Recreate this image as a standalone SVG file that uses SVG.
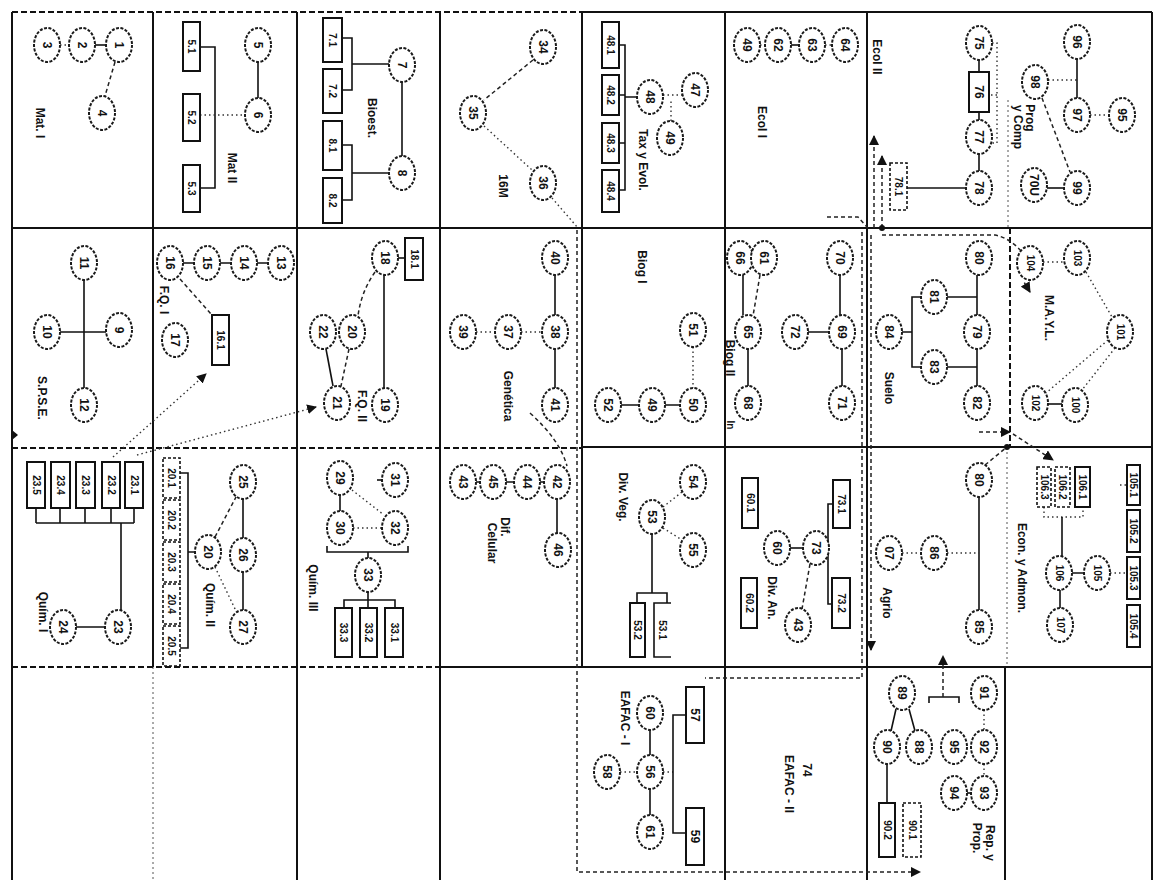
<svg xmlns="http://www.w3.org/2000/svg" width="1157" height="880" viewBox="0 0 1157 880">
<style>
.bg{fill:#fff}
.g{stroke:#111;stroke-width:2;fill:none}
.gd{stroke:#111;stroke-width:2;fill:none;stroke-dasharray:6 3}
.gt{stroke:#555;stroke-width:1;fill:none;stroke-dasharray:2 3}
.e{fill:#fff;stroke:#1a1a1a;stroke-width:2;stroke-dasharray:3 1.5}
.r{fill:#fff;stroke:#111;stroke-width:2}
.rd{fill:#fff;stroke:#111;stroke-width:1.6;stroke-dasharray:3 2}
.t{font-family:"Liberation Sans",Arial,sans-serif;font-weight:bold;font-size:12px;text-anchor:middle;dominant-baseline:central;fill:#111}
.ts{font-family:"Liberation Sans",Arial,sans-serif;font-weight:bold;font-size:10px;text-anchor:middle;dominant-baseline:central;fill:#111}
.lb{font-family:"Liberation Sans",Arial,sans-serif;font-weight:bold;font-size:12px;text-anchor:middle;dominant-baseline:central;fill:#111}
.s{stroke:#111;stroke-width:1.6;fill:none}
.d{stroke:#222;stroke-width:1.5;fill:none;stroke-dasharray:4 3}
.o{stroke:#333;stroke-width:1.4;fill:none;stroke-dasharray:1.5 3}
</style>
<defs>
<marker id="ah" viewBox="0 0 10 10" refX="9" refY="5" markerWidth="7" markerHeight="7" orient="auto-start-reverse"><path d="M0,0 L10,5 L0,10 z" fill="#111"/></marker>
</defs>
<rect class="bg" x="0" y="0" width="1157" height="880"/>

<g id="grid">
<path class="gd" d="M12,12 H582"/>
<path class="g" d="M582,12 H1152"/>
<path class="g" d="M12,12 V880"/>
<path class="g" d="M153,12 V667"/>
<path class="gt" d="M153,667 V880"/>
<path class="g" d="M297,12 V880"/>
<path class="g" d="M440,12 V880"/>
<path class="g" d="M582,12 V667"/>
<path class="g" d="M725,12 V880"/>
<path class="g" d="M867,12 V880"/>
<path class="gt" d="M1008,100 V228"/>
<path class="gd" d="M1010,228 V447"/>
<path class="gt" d="M1007,447 V667"/>
<path class="g" d="M1005,667 V880"/>
<path class="g" d="M1152,12 V880"/>
<path class="g" d="M12,228 H1152"/>
<path class="gd" d="M12,448 H582"/>
<path class="g" d="M582,447 H1152"/>
<path class="gd" d="M12,667 H440"/>
<path class="g" d="M440,667 H1152"/>
</g>

<g id="connectors">
<path class="o" d="M60,45 H69"/>
<path class="s" d="M95,45 H106"/>
<path class="d" d="M115,62 L105,96"/>
<path class="s" d="M200,47 H215 V188 H200"/>
<path class="o" d="M200,115 H245"/>
<path class="s" d="M258,62 V98"/>
<path class="s" d="M342,38 H352 V90 H342"/>
<path class="s" d="M352,64 H389"/>
<path class="s" d="M342,145 H352 V200 H342"/>
<path class="s" d="M352,173 H389"/>
<path class="s" d="M402,82 V156"/>
<path class="d" d="M533,60 L484,100"/>
<path class="o" d="M484,126 L532,170"/>
<path class="o" d="M552,198 L578,228"/>
<path class="s" d="M619,45 H625 V190 H619 M619,95 H625 M619,143 H625 M625,97 H637"/>
<path class="o" d="M663,95 H682"/>
<path class="o" d="M671,121 V100"/>
<path class="o" d="M760,45 H765"/>
<path class="s" d="M791,45 H799"/>
<path class="o" d="M825,45 H832"/>
<path class="s" d="M979,60 V72 M979,112 V120 M979,154 V171"/>
<path class="o" d="M992,43 H997 V143 H992 M997,95 H989"/>
<path class="s" d="M907,188 H966"/>
<path class="o" d="M1048,80 H1077"/>
<path class="s" d="M1077,59 V98"/>
<path class="o" d="M1090,115 H1109"/>
<path class="d" d="M1042,98 L1070,172"/>
<path class="s" d="M1064,188 H1047"/>
<path class="s" d="M84,280 V388 M60,332 H106"/>
<path class="s" d="M183,263 H194 M220,263 H231 M257,263 H268"/>
<path class="d" d="M180,279 L212,315"/>
<path class="o" d="M113,457 L206,374" marker-end="url(#ah)"/>
<path class="o" d="M137,455 L316,407" marker-end="url(#ah)"/>
<path class="s" d="M398,258 H405"/>
<path class="d" d="M375,272 Q361,292 358,316"/>
<path class="s" d="M384,275 V388"/>
<path class="s" d="M326,349 L333,386"/>
<path class="d" d="M349,349 L341,386"/>
<path class="s" d="M555,275 V315 M555,349 V388"/>
<path class="o" d="M476,332 H495 M521,332 H542"/>
<path class="d" d="M530,413 Q560,440 567,466"/>
<path class="o" d="M693,347 V388"/>
<path class="s" d="M680,405 H665 M639,405 H621"/>
<path class="s" d="M743,275 V315"/>
<path class="d" d="M760,275 L753,316"/>
<path class="s" d="M840,275 V315 M842,349 V386 M808,332 H829 M748,349 V386"/>
<path class="s" d="M977,275 V315 M977,349 V386 M947,297 H977 M947,367 H977 M921,297 H912 V367 H921 M912,332 H902"/>
<path class="o" d="M1043,262 H1064"/>
<path class="o" d="M1086,272 L1112,317"/>
<path class="o" d="M1108,340 L1046,393"/>
<path class="o" d="M1115,348 L1082,390"/>
<path class="s" d="M1048,404 H1062"/>
<path class="s" d="M36,508 V523 M60,508 V523 M85,508 V523 M111,508 V523 M134,508 V523 M36,523 H134 M121,523 V610 M76,627 H105"/>
<path class="d" d="M215,537 L236,497"/>
<path class="s" d="M243,499 V538 M243,572 V610"/>
<path class="o" d="M215,567 L236,611"/>
<path class="s" d="M180,473 H188 V648 H180 M188,552 H195"/>
<path class="s" d="M340,495 V511"/>
<path class="o" d="M353,528 H382"/>
<path class="o" d="M352,490 L384,515"/>
<path class="s" d="M382,480 H377"/>
<path class="s" d="M327,546 V552 H408 V546 M368,552 V558"/>
<path class="s" d="M344,608 V600 H395 V608 M368,592 V608"/>
<path class="s" d="M476,482 H480 M506,482 H514 M540,482 H544 M557,499 V533"/>
<path class="o" d="M663,507 L682,492 M663,528 L682,540"/>
<path class="s" d="M652,534 V593 M637,603 V593 H667 V603"/>
<path class="s" d="M790,548 H804"/>
<path class="s" d="M833,504 H828 V604 H832"/>
<path class="d" d="M810,564 L802,609"/>
<path class="s" d="M979,497 V610"/>
<path class="o" d="M947,553 H979 M902,553 H921"/>
<path class="o" d="M1044,507 V517 H1083 V507"/>
<path class="s" d="M1062,517 V556 M1072,573 H1084 M1060,590 V608"/>
<path class="o" d="M1110,573 H1127 M1120,485 H1127"/>
<path class="s" d="M650,730 V755 M650,789 V815"/>
<path class="o" d="M620,772 H637 M663,772 H673"/>
<path class="s" d="M686,715 H673 V833 H686"/>
<path class="s" d="M896,709 L891,731 M909,709 L915,731 M887,764 V803"/>
<path class="o" d="M984,710 V730 M984,764 V776"/>
<path class="s" d="M971,793 H967"/>
<path class="s" d="M929,703 V697 H959 V703"/>
<path class="d" d="M943,697 V656" marker-end="url(#ah)"/>
<path class="d" d="M577,230 V872 H920" marker-end="url(#ah)"/>
<path class="d" d="M862,232 V678 H705"/>
<path class="d" d="M827,217 H858 L868,228"/>
<path class="d" d="M874,228 V136" marker-end="url(#ah)"/>
<path class="d" d="M882,228 V156" marker-end="url(#ah)"/>
<path class="d" d="M882,235 H995 Q1010,238 1022,252"/>
<path class="d" d="M871,235 V650" marker-end="url(#ah)"/>
<path class="d" d="M985,465 L1007,447"/>
<path class="d" d="M979,432 H1010" marker-end="url(#ah)"/>
<path class="d" d="M1013,434 L1053,460" marker-end="url(#ah)"/>
<path class="d" d="M1030,292 L1024,282" marker-start="url(#ah)"/>
<circle cx="1007" cy="447" r="3" fill="#111"/>
<circle cx="882" cy="228" r="3" fill="#111"/>
<path d="M12,430 L18,435 L12,440 z" fill="#111"/>
</g>

<g id="n3"><ellipse class="e" cx="47" cy="45" rx="13" ry="17"/><text class="t" transform="translate(47,45) rotate(90)">3</text></g>
<g id="n2"><ellipse class="e" cx="82" cy="45" rx="13" ry="17"/><text class="t" transform="translate(82,45) rotate(90)">2</text></g>
<g id="n1"><ellipse class="e" cx="119" cy="45" rx="13" ry="17"/><text class="t" transform="translate(119,45) rotate(90)">1</text></g>
<g id="n4"><ellipse class="e" cx="102" cy="113" rx="13" ry="17"/><text class="t" transform="translate(102,113) rotate(90)">4</text></g>
<g id="lMat1"><text class="lb" transform="translate(40,123) rotate(90)">Mat. I</text></g>
<g id="r5_1"><rect class="r" x="183" y="22" width="17" height="49"/><text class="ts" transform="translate(191.5,46.5) rotate(90)">5.1</text></g>
<g id="r5_2"><rect class="r" x="183" y="94" width="17" height="47"/><text class="ts" transform="translate(191.5,117.5) rotate(90)">5.2</text></g>
<g id="r5_3"><rect class="r" x="183" y="165" width="17" height="47"/><text class="ts" transform="translate(191.5,188.5) rotate(90)">5.3</text></g>
<g id="n5"><ellipse class="e" cx="258" cy="45" rx="13" ry="17"/><text class="t" transform="translate(258,45) rotate(90)">5</text></g>
<g id="n6"><ellipse class="e" cx="258" cy="115" rx="13" ry="17"/><text class="t" transform="translate(258,115) rotate(90)">6</text></g>
<g id="lMat2"><text class="lb" transform="translate(232,168) rotate(90)">Mat II</text></g>
<g id="r7_1"><rect class="r" x="323" y="18" width="19" height="44"/><text class="ts" transform="translate(332.5,40) rotate(90)">7.1</text></g>
<g id="r7_2"><rect class="r" x="323" y="69" width="19" height="44"/><text class="ts" transform="translate(332.5,91) rotate(90)">7.2</text></g>
<g id="r8_1"><rect class="r" x="323" y="121" width="19" height="49"/><text class="ts" transform="translate(332.5,145.5) rotate(90)">8.1</text></g>
<g id="r8_2"><rect class="r" x="323" y="178" width="19" height="45"/><text class="ts" transform="translate(332.5,200.5) rotate(90)">8.2</text></g>
<g id="n7"><ellipse class="e" cx="402" cy="65" rx="13" ry="17"/><text class="t" transform="translate(402,65) rotate(90)">7</text></g>
<g id="n8"><ellipse class="e" cx="402" cy="173" rx="13" ry="17"/><text class="t" transform="translate(402,173) rotate(90)">8</text></g>
<g id="lBio"><text class="lb" transform="translate(372,118) rotate(90)">Bioest.</text></g>
<g id="n34"><ellipse class="e" cx="543" cy="47" rx="13" ry="17"/><text class="t" transform="translate(543,47) rotate(90)">34</text></g>
<g id="n35"><ellipse class="e" cx="473" cy="113" rx="13" ry="17"/><text class="t" transform="translate(473,113) rotate(90)">35</text></g>
<g id="n36"><ellipse class="e" cx="543" cy="183" rx="13" ry="17"/><text class="t" transform="translate(543,183) rotate(90)">36</text></g>
<g id="l16M"><text class="lb" transform="translate(503,186) rotate(90)">16M</text></g>
<g id="r48_1"><rect class="r" x="602" y="22" width="17" height="46"/><text class="ts" transform="translate(610.5,45) rotate(90)">48.1</text></g>
<g id="r48_2"><rect class="r" x="602" y="75" width="17" height="40"/><text class="ts" transform="translate(610.5,95) rotate(90)">48.2</text></g>
<g id="r48_3"><rect class="r" x="602" y="123" width="17" height="40"/><text class="ts" transform="translate(610.5,143) rotate(90)">48.3</text></g>
<g id="r48_4"><rect class="r" x="602" y="170" width="17" height="42"/><text class="ts" transform="translate(610.5,191) rotate(90)">48.4</text></g>
<g id="n48"><ellipse class="e" cx="650" cy="97" rx="13" ry="17"/><text class="t" transform="translate(650,97) rotate(90)">48</text></g>
<g id="n47"><ellipse class="e" cx="695" cy="90" rx="13" ry="17"/><text class="t" transform="translate(695,90) rotate(90)">47</text></g>
<g id="n49"><ellipse class="e" cx="670" cy="138" rx="13" ry="17"/><text class="t" transform="translate(670,138) rotate(90)">49</text></g>
<g id="lTax"><text class="lb" transform="translate(643,160) rotate(90)">Tax y Evol.</text></g>
<g id="n49b"><ellipse class="e" cx="747" cy="45" rx="13" ry="17"/><text class="t" transform="translate(747,45) rotate(90)">49</text></g>
<g id="n62"><ellipse class="e" cx="778" cy="45" rx="13" ry="17"/><text class="t" transform="translate(778,45) rotate(90)">62</text></g>
<g id="n63"><ellipse class="e" cx="812" cy="45" rx="13" ry="17"/><text class="t" transform="translate(812,45) rotate(90)">63</text></g>
<g id="n64"><ellipse class="e" cx="845" cy="45" rx="13" ry="17"/><text class="t" transform="translate(845,45) rotate(90)">64</text></g>
<g id="lEcol1"><text class="lb" transform="translate(762,122) rotate(90)">Ecol I</text></g>
<g id="n75"><ellipse class="e" cx="979" cy="43" rx="13" ry="17"/><text class="t" transform="translate(979,43) rotate(90)">75</text></g>
<g id="r76"><rect class="r" x="969" y="72" width="20" height="40"/><text class="t" transform="translate(979,92) rotate(90)">76</text></g>
<g id="n77"><ellipse class="e" cx="979" cy="137" rx="13" ry="17"/><text class="t" transform="translate(979,137) rotate(90)">77</text></g>
<g id="n78"><ellipse class="e" cx="979" cy="188" rx="13" ry="17"/><text class="t" transform="translate(979,188) rotate(90)">78</text></g>
<g id="r78_1"><rect class="rd" x="890" y="163" width="17" height="47"/><text class="ts" transform="translate(898.5,186.5) rotate(90)">78.1</text></g>
<g id="lEcol2"><text class="lb" transform="translate(877,57) rotate(90)">Ecol II</text></g>
<g id="n98"><ellipse class="e" cx="1035" cy="82" rx="13" ry="17"/><text class="t" transform="translate(1035,82) rotate(90)">98</text></g>
<g id="n96"><ellipse class="e" cx="1077" cy="42" rx="13" ry="17"/><text class="t" transform="translate(1077,42) rotate(90)">96</text></g>
<g id="n97"><ellipse class="e" cx="1077" cy="115" rx="13" ry="17"/><text class="t" transform="translate(1077,115) rotate(90)">97</text></g>
<g id="n95"><ellipse class="e" cx="1122" cy="115" rx="13" ry="17"/><text class="t" transform="translate(1122,115) rotate(90)">95</text></g>
<g id="n99"><ellipse class="e" cx="1077" cy="188" rx="13" ry="17"/><text class="t" transform="translate(1077,188) rotate(90)">99</text></g>
<g id="n70u"><ellipse class="e" cx="1034" cy="185" rx="13" ry="17"/><text class="t" transform="translate(1034,185) rotate(90)">70U</text></g>
<g id="lProg"><text class="lb" transform="translate(1030,118) rotate(90)">Prog</text><text class="lb" transform="translate(1018,127) rotate(90)">y Comp</text></g>
<g id="n11"><ellipse class="e" cx="84" cy="263" rx="13" ry="17"/><text class="t" transform="translate(84,263) rotate(90)">11</text></g>
<g id="n10"><ellipse class="e" cx="47" cy="332" rx="13" ry="17"/><text class="t" transform="translate(47,332) rotate(90)">10</text></g>
<g id="n9"><ellipse class="e" cx="119" cy="330" rx="13" ry="17"/><text class="t" transform="translate(119,330) rotate(90)">9</text></g>
<g id="n12"><ellipse class="e" cx="84" cy="405" rx="13" ry="17"/><text class="t" transform="translate(84,405) rotate(90)">12</text></g>
<g id="lSPSE"><text class="lb" transform="translate(42,398) rotate(90)">S.P.S.E.</text></g>
<g id="n16"><ellipse class="e" cx="170" cy="263" rx="13" ry="17"/><text class="t" transform="translate(170,263) rotate(90)">16</text></g>
<g id="n15"><ellipse class="e" cx="207" cy="263" rx="13" ry="17"/><text class="t" transform="translate(207,263) rotate(90)">15</text></g>
<g id="n14"><ellipse class="e" cx="244" cy="263" rx="13" ry="17"/><text class="t" transform="translate(244,263) rotate(90)">14</text></g>
<g id="n13"><ellipse class="e" cx="281" cy="263" rx="13" ry="17"/><text class="t" transform="translate(281,263) rotate(90)">13</text></g>
<g id="n17"><ellipse class="e" cx="175" cy="340" rx="13" ry="17"/><text class="t" transform="translate(175,340) rotate(90)">17</text></g>
<g id="r16_1"><rect class="r" x="212" y="315" width="17" height="50"/><text class="ts" transform="translate(220.5,340) rotate(90)">16.1</text></g>
<g id="lFQ1"><text class="lb" transform="translate(164,300) rotate(90)">F.Q. I</text></g>
<g id="n18"><ellipse class="e" cx="385" cy="258" rx="13" ry="17"/><text class="t" transform="translate(385,258) rotate(90)">18</text></g>
<g id="r18_1"><rect class="r" x="405" y="238" width="18" height="42"/><text class="ts" transform="translate(414,259) rotate(90)">18.1</text></g>
<g id="n22"><ellipse class="e" cx="323" cy="332" rx="13" ry="17"/><text class="t" transform="translate(323,332) rotate(90)">22</text></g>
<g id="n20"><ellipse class="e" cx="352" cy="332" rx="13" ry="17"/><text class="t" transform="translate(352,332) rotate(90)">20</text></g>
<g id="n21"><ellipse class="e" cx="337" cy="403" rx="13" ry="17"/><text class="t" transform="translate(337,403) rotate(90)">21</text></g>
<g id="n19"><ellipse class="e" cx="385" cy="405" rx="13" ry="17"/><text class="t" transform="translate(385,405) rotate(90)">19</text></g>
<g id="lFQ2"><text class="lb" transform="translate(362,406) rotate(90)">F.Q. II</text></g>
<g id="n40"><ellipse class="e" cx="555" cy="258" rx="13" ry="17"/><text class="t" transform="translate(555,258) rotate(90)">40</text></g>
<g id="n39"><ellipse class="e" cx="463" cy="332" rx="13" ry="17"/><text class="t" transform="translate(463,332) rotate(90)">39</text></g>
<g id="n37"><ellipse class="e" cx="508" cy="332" rx="13" ry="17"/><text class="t" transform="translate(508,332) rotate(90)">37</text></g>
<g id="n38"><ellipse class="e" cx="555" cy="332" rx="13" ry="17"/><text class="t" transform="translate(555,332) rotate(90)">38</text></g>
<g id="n41"><ellipse class="e" cx="555" cy="405" rx="13" ry="17"/><text class="t" transform="translate(555,405) rotate(90)">41</text></g>
<g id="lGen"><text class="lb" transform="translate(508,396) rotate(90)">Genética</text></g>
<g id="n51"><ellipse class="e" cx="693" cy="330" rx="13" ry="17"/><text class="t" transform="translate(693,330) rotate(90)">51</text></g>
<g id="n52"><ellipse class="e" cx="608" cy="405" rx="13" ry="17"/><text class="t" transform="translate(608,405) rotate(90)">52</text></g>
<g id="n49c"><ellipse class="e" cx="652" cy="405" rx="13" ry="17"/><text class="t" transform="translate(652,405) rotate(90)">49</text></g>
<g id="n50"><ellipse class="e" cx="693" cy="405" rx="13" ry="17"/><text class="t" transform="translate(693,405) rotate(90)">50</text></g>
<g id="lBiog1"><text class="lb" transform="translate(642,267) rotate(90)">Biog I</text></g>
<g id="n66"><ellipse class="e" cx="740" cy="258" rx="13" ry="17"/><text class="t" transform="translate(740,258) rotate(90)">66</text></g>
<g id="n61"><ellipse class="e" cx="764" cy="258" rx="13" ry="17"/><text class="t" transform="translate(764,258) rotate(90)">61</text></g>
<g id="n70"><ellipse class="e" cx="840" cy="258" rx="13" ry="17"/><text class="t" transform="translate(840,258) rotate(90)">70</text></g>
<g id="n65"><ellipse class="e" cx="748" cy="332" rx="13" ry="17"/><text class="t" transform="translate(748,332) rotate(90)">65</text></g>
<g id="n68"><ellipse class="e" cx="748" cy="403" rx="13" ry="17"/><text class="t" transform="translate(748,403) rotate(90)">68</text></g>
<g id="n72"><ellipse class="e" cx="795" cy="332" rx="13" ry="17"/><text class="t" transform="translate(795,332) rotate(90)">72</text></g>
<g id="n69"><ellipse class="e" cx="842" cy="332" rx="13" ry="17"/><text class="t" transform="translate(842,332) rotate(90)">69</text></g>
<g id="n71"><ellipse class="e" cx="842" cy="403" rx="13" ry="17"/><text class="t" transform="translate(842,403) rotate(90)">71</text></g>
<g id="lBiog2"><text class="lb" transform="translate(730,358) rotate(90)">Biog II</text><text class="ts" transform="translate(730,425) rotate(90)">In</text></g>
<g id="n80"><ellipse class="e" cx="979" cy="258" rx="13" ry="17"/><text class="t" transform="translate(979,258) rotate(90)">80</text></g>
<g id="n81"><ellipse class="e" cx="934" cy="297" rx="13" ry="17"/><text class="t" transform="translate(934,297) rotate(90)">81</text></g>
<g id="n79"><ellipse class="e" cx="977" cy="332" rx="13" ry="17"/><text class="t" transform="translate(977,332) rotate(90)">79</text></g>
<g id="n84"><ellipse class="e" cx="889" cy="332" rx="13" ry="17"/><text class="t" transform="translate(889,332) rotate(90)">84</text></g>
<g id="n83"><ellipse class="e" cx="934" cy="367" rx="13" ry="17"/><text class="t" transform="translate(934,367) rotate(90)">83</text></g>
<g id="n82"><ellipse class="e" cx="977" cy="403" rx="13" ry="17"/><text class="t" transform="translate(977,403) rotate(90)">82</text></g>
<g id="lSuelo"><text class="lb" transform="translate(889,388) rotate(90)">Suelo</text></g>
<g id="n104"><ellipse class="e" cx="1030" cy="263" rx="13" ry="17"/><text class="ts" transform="translate(1030,263) rotate(90)">104</text></g>
<g id="n103"><ellipse class="e" cx="1077" cy="258" rx="13" ry="17"/><text class="ts" transform="translate(1077,258) rotate(90)">103</text></g>
<g id="n101"><ellipse class="e" cx="1120" cy="332" rx="13" ry="17"/><text class="ts" transform="translate(1120,332) rotate(90)">101</text></g>
<g id="n102"><ellipse class="e" cx="1035" cy="403" rx="13" ry="17"/><text class="ts" transform="translate(1035,403) rotate(90)">102</text></g>
<g id="n100"><ellipse class="e" cx="1075" cy="405" rx="13" ry="17"/><text class="ts" transform="translate(1075,405) rotate(90)">100</text></g>
<g id="lMAYL"><text class="lb" transform="translate(1049,318) rotate(90)">M.A.Y.L.</text></g>
<g id="r23_5"><rect class="r" x="27" y="462" width="18" height="46"/><text class="ts" transform="translate(36,485) rotate(90)">23.5</text></g>
<g id="r23_4"><rect class="r" x="51" y="462" width="19" height="46"/><text class="ts" transform="translate(60.5,485) rotate(90)">23.4</text></g>
<g id="r23_3"><rect class="r" x="76" y="462" width="19" height="46"/><text class="ts" transform="translate(85.5,485) rotate(90)">23.3</text></g>
<g id="r23_2"><rect class="r" x="102" y="462" width="18" height="46"/><text class="ts" transform="translate(111,485) rotate(90)">23.2</text></g>
<g id="r23_1"><rect class="r" x="125" y="462" width="18" height="46"/><text class="ts" transform="translate(134,485) rotate(90)">23.1</text></g>
<g id="n23"><ellipse class="e" cx="118" cy="627" rx="13" ry="17"/><text class="t" transform="translate(118,627) rotate(90)">23</text></g>
<g id="n24"><ellipse class="e" cx="63" cy="627" rx="13" ry="17"/><text class="t" transform="translate(63,627) rotate(90)">24</text></g>
<g id="lQ1"><text class="lb" transform="translate(43,612) rotate(90)">Quím. I</text></g>
<g id="r20_1"><rect class="rd" x="163" y="458" width="17" height="40"/><text class="ts" transform="translate(171.5,478) rotate(90)">20.1</text></g>
<g id="r20_2"><rect class="rd" x="163" y="500" width="17" height="40"/><text class="ts" transform="translate(171.5,520) rotate(90)">20.2</text></g>
<g id="r20_3"><rect class="rd" x="163" y="542" width="17" height="40"/><text class="ts" transform="translate(171.5,562) rotate(90)">20.3</text></g>
<g id="r20_4"><rect class="rd" x="163" y="584" width="17" height="40"/><text class="ts" transform="translate(171.5,604) rotate(90)">20.4</text></g>
<g id="r20_5"><rect class="rd" x="163" y="626" width="17" height="40"/><text class="ts" transform="translate(171.5,646) rotate(90)">20.5</text></g>
<g id="n20b"><ellipse class="e" cx="208" cy="552" rx="13" ry="17"/><text class="t" transform="translate(208,552) rotate(90)">20</text></g>
<g id="n25"><ellipse class="e" cx="243" cy="482" rx="13" ry="17"/><text class="t" transform="translate(243,482) rotate(90)">25</text></g>
<g id="n26"><ellipse class="e" cx="243" cy="555" rx="13" ry="17"/><text class="t" transform="translate(243,555) rotate(90)">26</text></g>
<g id="n27"><ellipse class="e" cx="243" cy="627" rx="13" ry="17"/><text class="t" transform="translate(243,627) rotate(90)">27</text></g>
<g id="lQ2"><text class="lb" transform="translate(210,605) rotate(90)">Quím. II</text></g>
<g id="n29"><ellipse class="e" cx="340" cy="478" rx="13" ry="17"/><text class="t" transform="translate(340,478) rotate(90)">29</text></g>
<g id="n31"><ellipse class="e" cx="395" cy="480" rx="13" ry="17"/><text class="t" transform="translate(395,480) rotate(90)">31</text></g>
<g id="n30"><ellipse class="e" cx="340" cy="528" rx="13" ry="17"/><text class="t" transform="translate(340,528) rotate(90)">30</text></g>
<g id="n32"><ellipse class="e" cx="395" cy="528" rx="13" ry="17"/><text class="t" transform="translate(395,528) rotate(90)">32</text></g>
<g id="n33"><ellipse class="e" cx="368" cy="575" rx="13" ry="17"/><text class="t" transform="translate(368,575) rotate(90)">33</text></g>
<g id="r33_3"><rect class="r" x="335" y="608" width="17" height="49"/><text class="ts" transform="translate(343.5,632.5) rotate(90)">33.3</text></g>
<g id="r33_2"><rect class="r" x="360" y="608" width="17" height="49"/><text class="ts" transform="translate(368.5,632.5) rotate(90)">33.2</text></g>
<g id="r33_1"><rect class="r" x="385" y="608" width="18" height="49"/><text class="ts" transform="translate(394,632.5) rotate(90)">33.1</text></g>
<g id="lQ3"><text class="lb" transform="translate(313,588) rotate(90)">Quím. III</text></g>
<g id="n43"><ellipse class="e" cx="463" cy="482" rx="13" ry="17"/><text class="t" transform="translate(463,482) rotate(90)">43</text></g>
<g id="n45"><ellipse class="e" cx="493" cy="482" rx="13" ry="17"/><text class="t" transform="translate(493,482) rotate(90)">45</text></g>
<g id="n44"><ellipse class="e" cx="527" cy="482" rx="13" ry="17"/><text class="t" transform="translate(527,482) rotate(90)">44</text></g>
<g id="n42"><ellipse class="e" cx="557" cy="482" rx="13" ry="17"/><text class="t" transform="translate(557,482) rotate(90)">42</text></g>
<g id="n46"><ellipse class="e" cx="558" cy="550" rx="13" ry="17"/><text class="t" transform="translate(558,550) rotate(90)">46</text></g>
<g id="lDif"><text class="lb" transform="translate(505,527) rotate(90)">Dif.</text><text class="lb" transform="translate(492,543) rotate(90)">Celular</text></g>
<g id="n54"><ellipse class="e" cx="693" cy="482" rx="13" ry="17"/><text class="t" transform="translate(693,482) rotate(90)">54</text></g>
<g id="n53"><ellipse class="e" cx="652" cy="517" rx="13" ry="17"/><text class="t" transform="translate(652,517) rotate(90)">53</text></g>
<g id="n55"><ellipse class="e" cx="693" cy="550" rx="13" ry="17"/><text class="t" transform="translate(693,550) rotate(90)">55</text></g>
<g id="r53_2"><rect class="r" x="630" y="603" width="15" height="54"/><text class="ts" transform="translate(637.5,630) rotate(90)">53.2</text></g>
<g id="r53_1"><path class="s" d="M671,603 H654 V657 H671"/><text class="ts" transform="translate(662.5,630) rotate(90)">53.1</text></g>
<g id="lDivV"><text class="lb" transform="translate(623,497) rotate(90)">Div. Veg.</text></g>
<g id="r60_1"><rect class="r" x="742" y="478" width="16" height="50"/><text class="ts" transform="translate(750,503) rotate(90)">60.1</text></g>
<g id="r73_1"><rect class="r" x="833" y="480" width="17" height="48"/><text class="ts" transform="translate(841.5,504) rotate(90)">73.1</text></g>
<g id="n60"><ellipse class="e" cx="777" cy="548" rx="13" ry="17"/><text class="t" transform="translate(777,548) rotate(90)">60</text></g>
<g id="n73"><ellipse class="e" cx="816" cy="548" rx="13" ry="17"/><text class="t" transform="translate(816,548) rotate(90)">73</text></g>
<g id="r60_2"><rect class="r" x="741" y="578" width="16" height="50"/><text class="ts" transform="translate(749,603) rotate(90)">60.2</text></g>
<g id="r73_2"><rect class="r" x="832" y="578" width="18" height="50"/><text class="ts" transform="translate(841,603) rotate(90)">73.2</text></g>
<g id="n43b"><ellipse class="e" cx="798" cy="625" rx="13" ry="17"/><text class="t" transform="translate(798,625) rotate(90)">43</text></g>
<g id="lDivA"><text class="lb" transform="translate(772,598) rotate(90)">Div. An.</text></g>
<g id="n80b"><ellipse class="e" cx="979" cy="480" rx="13" ry="17"/><text class="t" transform="translate(979,480) rotate(90)">80</text></g>
<g id="n86"><ellipse class="e" cx="934" cy="553" rx="13" ry="17"/><text class="t" transform="translate(934,553) rotate(90)">86</text></g>
<g id="n07"><ellipse class="e" cx="889" cy="553" rx="13" ry="17"/><text class="t" transform="translate(889,553) rotate(90)">07</text></g>
<g id="n85"><ellipse class="e" cx="979" cy="627" rx="13" ry="17"/><text class="t" transform="translate(979,627) rotate(90)">85</text></g>
<g id="lAgrio"><text class="lb" transform="translate(887,603) rotate(90)">Agrio</text></g>
<g id="r106_3"><rect class="rd" x="1037" y="467" width="14" height="40"/><text class="ts" transform="translate(1044,487) rotate(90)">106.3</text></g>
<g id="r106_2"><rect class="rd" x="1055" y="467" width="15" height="40"/><text class="ts" transform="translate(1062.5,487) rotate(90)">106.2</text></g>
<g id="r106_1"><rect class="r" x="1075" y="467" width="15" height="40"/><text class="ts" transform="translate(1082.5,487) rotate(90)">106.1</text></g>
<g id="r105_1"><rect class="r" x="1127" y="465" width="13" height="40"/><text class="ts" transform="translate(1133.5,485) rotate(90)">105.1</text></g>
<g id="r105_2"><rect class="r" x="1127" y="510" width="13" height="42"/><text class="ts" transform="translate(1133.5,531) rotate(90)">105.2</text></g>
<g id="r105_3"><rect class="r" x="1127" y="557" width="13" height="42"/><text class="ts" transform="translate(1133.5,578) rotate(90)">105.3</text></g>
<g id="r105_4"><rect class="r" x="1127" y="605" width="13" height="42"/><text class="ts" transform="translate(1133.5,626) rotate(90)">105.4</text></g>
<g id="n106"><ellipse class="e" cx="1059" cy="573" rx="13" ry="17"/><text class="ts" transform="translate(1059,573) rotate(90)">106</text></g>
<g id="n105"><ellipse class="e" cx="1097" cy="573" rx="13" ry="17"/><text class="ts" transform="translate(1097,573) rotate(90)">105</text></g>
<g id="n107"><ellipse class="e" cx="1060" cy="625" rx="13" ry="17"/><text class="ts" transform="translate(1060,625) rotate(90)">107</text></g>
<g id="lEcon"><text class="lb" transform="translate(1022,568) rotate(90)">Econ. y Admon.</text></g>
<g id="n60b"><ellipse class="e" cx="650" cy="713" rx="13" ry="17"/><text class="t" transform="translate(650,713) rotate(90)">60</text></g>
<g id="n56"><ellipse class="e" cx="650" cy="772" rx="13" ry="17"/><text class="t" transform="translate(650,772) rotate(90)">56</text></g>
<g id="n61b"><ellipse class="e" cx="650" cy="832" rx="13" ry="17"/><text class="t" transform="translate(650,832) rotate(90)">61</text></g>
<g id="n58"><ellipse class="e" cx="607" cy="772" rx="13" ry="17"/><text class="t" transform="translate(607,772) rotate(90)">58</text></g>
<g id="r57"><rect class="r" x="686" y="687" width="18" height="56"/><text class="t" transform="translate(695,715) rotate(90)">57</text></g>
<g id="r59"><rect class="r" x="686" y="808" width="18" height="57"/><text class="t" transform="translate(695,836.5) rotate(90)">59</text></g>
<g id="lEA1"><text class="lb" transform="translate(625,718) rotate(90)">EAFAC - I</text></g>
<g id="lEA2"><text class="lb" transform="translate(807,770) rotate(90)">74</text><text class="lb" transform="translate(789,784) rotate(90)">EAFAC - II</text></g>
<g id="n89"><ellipse class="e" cx="902" cy="693" rx="13" ry="17"/><text class="t" transform="translate(902,693) rotate(90)">89</text></g>
<g id="n90"><ellipse class="e" cx="887" cy="747" rx="13" ry="17"/><text class="t" transform="translate(887,747) rotate(90)">90</text></g>
<g id="n88"><ellipse class="e" cx="919" cy="747" rx="13" ry="17"/><text class="t" transform="translate(919,747) rotate(90)">88</text></g>
<g id="n91"><ellipse class="e" cx="984" cy="693" rx="13" ry="17"/><text class="t" transform="translate(984,693) rotate(90)">91</text></g>
<g id="n92"><ellipse class="e" cx="984" cy="747" rx="13" ry="17"/><text class="t" transform="translate(984,747) rotate(90)">92</text></g>
<g id="n95b"><ellipse class="e" cx="954" cy="747" rx="13" ry="17"/><text class="t" transform="translate(954,747) rotate(90)">95</text></g>
<g id="n93"><ellipse class="e" cx="984" cy="793" rx="13" ry="17"/><text class="t" transform="translate(984,793) rotate(90)">93</text></g>
<g id="n94"><ellipse class="e" cx="954" cy="793" rx="13" ry="17"/><text class="t" transform="translate(954,793) rotate(90)">94</text></g>
<g id="r90_2"><rect class="r" x="879" y="803" width="16" height="54"/><text class="ts" transform="translate(887,830) rotate(90)">90.2</text></g>
<g id="r90_1"><rect class="rd" x="903" y="803" width="18" height="54"/><text class="ts" transform="translate(912,830) rotate(90)">90.1</text></g>
<g id="lRep"><text class="lb" transform="translate(990,843) rotate(90)">Rep. y</text><text class="lb" transform="translate(977,838) rotate(90)">Prop.</text></g>
</svg>
